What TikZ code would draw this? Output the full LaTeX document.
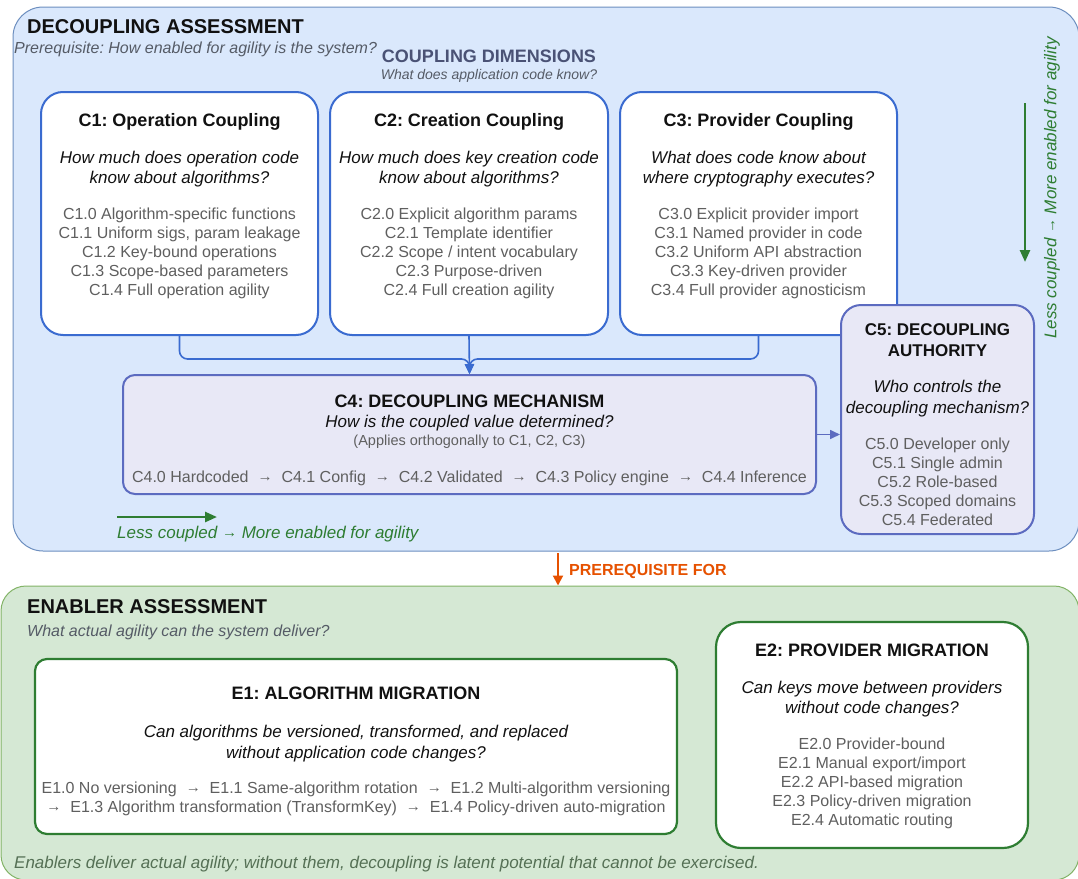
\documentclass[tikz,border=0pt]{standalone}
\usepackage{fontspec}
\setmainfont{Liberation Sans}
\usetikzlibrary{arrows.meta}
\frenchspacing
\definecolor{bluefill}{HTML}{DAE8FC}
\definecolor{bluestroke}{HTML}{6C8EBF}
\definecolor{cblue}{HTML}{3A6BD0}
\definecolor{lav}{HTML}{E8E8F6}
\definecolor{lavstroke}{HTML}{5C6BC0}
\definecolor{greenfill}{HTML}{D5E8D4}
\definecolor{greenstroke}{HTML}{82B366}
\definecolor{dgreen}{HTML}{2E7D32}
\definecolor{orng}{HTML}{E65100}
\definecolor{itemgray}{HTML}{5F5F5F}
\definecolor{ink}{HTML}{111111}
\definecolor{slate}{HTML}{4A5275}
\definecolor{subgray}{HTML}{555B66}
\definecolor{footgreen}{HTML}{557055}
\newcommand{\smarr}{\raisebox{1pt}{\fontsize{15}{15}\selectfont →}}
\newcommand{\sarr}{\hspace{0.56em}\smarr\hspace{0.56em}}
\tikzset{
  sect/.style={draw=#1, line width=1pt, rectangle},
  cbox/.style={draw=cblue, fill=white, line width=2pt, rounded corners=22pt, rectangle, inner sep=0},
  lbox/.style={draw=lavstroke, fill=lav, line width=2pt, rectangle, inner sep=0},
  ebox/.style={draw=dgreen, fill=white, line width=2.2pt, rectangle, inner sep=0},
  ttl/.style={font=\bfseries\fontsize{18}{18}\selectfont, text=ink, anchor=base, yshift=-6pt, inner sep=0},
  ttlc/.style={font=\bfseries\fontsize{17}{17}\selectfont, text=ink, anchor=base, yshift=-5.7pt, inner sep=0},
  ques/.style={font=\itshape\fontsize{17}{17}\selectfont, text=ink, anchor=base, yshift=-5.7pt, inner sep=0},
  itm/.style={font=\fontsize{16}{16}\selectfont, text=itemgray, anchor=base, yshift=-5.4pt, inner sep=0},
  sectttl/.style={font=\bfseries\fontsize{20}{20}\selectfont, text=ink, anchor=base west, yshift=-6.8pt, inner sep=0},
  sectsub/.style={font=\itshape\fontsize{16}{16}\selectfont, text=subgray, anchor=base west, yshift=-5.4pt, inner sep=0},
  conn/.style={draw=cblue, line width=1.6pt, rounded corners=8pt, -{Triangle[length=10pt,width=9pt]}},
  garrow/.style={draw=dgreen, line width=2.5pt, -{Triangle[length=12pt,width=10pt]}},
  gtext/.style={font=\itshape\fontsize{17}{17}\selectfont, text=dgreen, inner sep=0},
}
\begin{document}
\begin{tikzpicture}[x=1pt,y=-1pt]
\useasboundingbox (0,0) rectangle (1078,878);
\clip (0,0) rectangle (1078,878);

% ---------- section backgrounds ----------
\node[sect=bluestroke, fill=bluefill, rounded corners=30pt, minimum width=1066pt, minimum height=544pt] (dec) at (546,279) {};
\node[sect=greenstroke, fill=greenfill, rounded corners=25pt, minimum width=1078pt, minimum height=294pt] (en) at (540,733) {};

% ---------- decoupling header ----------
\node[sectttl] (dectitle) at (27,27) {DECOUPLING ASSESSMENT};
\node[sectsub] (decsub) at (14,48) {Prerequisite: How enabled for agility is the system?};
\node[font=\bfseries\fontsize{18}{18}\selectfont, text=slate, anchor=base, yshift=-6pt, inner sep=0] (cdim) at (489,56) {COUPLING DIMENSIONS};
\node[font=\itshape\fontsize{14}{14}\selectfont, text=subgray, anchor=base, yshift=-4.7pt, inner sep=0] (cdimsub) at (489,75) {What does application code know?};

% ---------- C1 - C3 ----------
\node[cbox, minimum width=277pt, minimum height=243pt] (c1) at (179.5,213.5) {};
\node[cbox, minimum width=278pt, minimum height=243pt] (c2) at (469,213.5) {};
\node[cbox, minimum width=277pt, minimum height=243pt] (c3) at (758.5,213.5) {};

\node[ttl] (c1t) at (179.5,120) {C1: Operation Coupling};
\node[ques] (c1q1) at (179.5,158) {How much does operation code};
\node[ques] (c1q2) at (179.5,178) {know about algorithms?};
\foreach \t [count=\i] in {C1.0 Algorithm-specific functions,{C1.1 Uniform sigs, param leakage},C1.2 Key-bound operations,C1.3 Scope-based parameters,C1.4 Full operation agility}
  \node[itm] (c1i\i) at (179.5,{214+19*(\i-1)}) {\t};

\node[ttl] (c2t) at (469,120) {C2: Creation Coupling};
\node[ques] (c2q1) at (469,158) {How much does key creation code};
\node[ques] (c2q2) at (469,178) {know about algorithms?};
\foreach \t [count=\i] in {C2.0 Explicit algorithm params,C2.1 Template identifier,C2.2 Scope / intent vocabulary,C2.3 Purpose-driven,C2.4 Full creation agility}
  \node[itm] (c2i\i) at (469,{214+19*(\i-1)}) {\t};

\node[ttl] (c3t) at (758.5,120) {C3: Provider Coupling};
\node[ques] (c3q1) at (758.5,158) {What does code know about};
\node[ques] (c3q2) at (758.5,178) {where cryptography executes?};
\foreach \t [count=\i] in {C3.0 Explicit provider import,C3.1 Named provider in code,C3.2 Uniform API abstraction,C3.3 Key-driven provider,C3.4 Full provider agnosticism}
  \node[itm] (c3i\i) at (758.5,{214+19*(\i-1)}) {\t};

% ---------- C4 ----------
\node[lbox, rounded corners=12pt, minimum width=693pt, minimum height=119pt] (c4) at (469.5,434.5) {};
\node[ttl] (c4t) at (469.5,401) {C4: DECOUPLING MECHANISM};
\node[ques] (c4q) at (469.5,422) {How is the coupled value determined?};
\node[font=\fontsize{14.5}{14.5}\selectfont, text=itemgray, anchor=base, yshift=-4.9pt, inner sep=0] (c4p) at (469.5,441) {(Applies orthogonally to C1, C2, C3)};
\node[itm] (c4i) at (469.5,477) {C4.0 Hardcoded\sarr C4.1 Config\sarr C4.2 Validated\sarr C4.3 Policy engine\sarr C4.4 Inference};

% ---------- C5 ----------
\node[lbox, rounded corners=20pt, minimum width=193pt, minimum height=229pt] (c5) at (937.5,419.5) {};
\node[ttlc] (c5t1) at (937.5,330) {C5: DECOUPLING};
\node[ttlc] (c5t2) at (937.5,351) {AUTHORITY};
\node[ques] (c5q1) at (937.5,387) {Who controls the};
\node[ques] (c5q2) at (937.5,408) {decoupling mechanism?};
\foreach \t [count=\i] in {C5.0 Developer only,C5.1 Single admin,C5.2 Role-based,C5.3 Scoped domains,C5.4 Federated}
  \node[itm] (c5i\i) at (937.5,{444+19*(\i-1)}) {\t};

% ---------- connectors ----------
\draw[conn] (c1.south) -- ++(0,23) -| (c4.north);
\draw[conn] (c3.south) -- ++(0,23) -| (c4.north);
\draw[conn] (c2.south) -- (c4.north);
\draw[draw=lavstroke, line width=1.6pt, -{Triangle[length=10pt,width=9pt]}] (c4.east) -- (c4.east -| c5.west);

% ---------- green direction arrows ----------
\coordinate (ha) at (117,517);
\coordinate (hb) at (217,517);
\draw[garrow] (ha) -- (hb);
\node[gtext, anchor=base west, yshift=-5.7pt] (htext) at (117,533) {Less coupled \smarr{} More enabled for agility};
\coordinate (va) at (1025,103);
\coordinate (vb) at (1025,262);
\draw[garrow] (va) -- (vb);
\node[gtext, rotate=90] (vtext) at (1052,188) {Less coupled \smarr{} More enabled for agility};

% ---------- prerequisite arrow ----------
\coordinate (pa) at (558,553);
\draw[draw=orng, line width=2pt, -{Triangle[length=10pt,width=10pt]}] (pa) -- (pa |- en.north);
\node[font=\bfseries\fontsize{16}{16}\selectfont, text=orng, anchor=base west, yshift=-5.6pt, inner sep=0] (pretext) at (569,570) {PREREQUISITE FOR};

% ---------- enabler header ----------
\node[sectttl] (entitle) at (27,607) {ENABLER ASSESSMENT};
\node[sectsub, text=subgray] (ensub) at (27,631) {What actual agility can the system deliver?};

% ---------- E1 ----------
\node[ebox, rounded corners=12pt, minimum width=642pt, minimum height=175pt] (e1) at (356,746.5) {};
\node[ttl] (e1t) at (356,693) {E1: ALGORITHM MIGRATION};
\node[ques] (e1q1) at (356,732) {Can algorithms be versioned, transformed, and replaced};
\node[ques] (e1q2) at (356,753) {without application code changes?};
\node[itm] (e1i1) at (356,788) {E1.0 No versioning\sarr E1.1 Same-algorithm rotation\sarr E1.2 Multi-algorithm versioning};
\node[itm] (e1i2) at (356,807) {\smarr\hspace{0.56em}E1.3 Algorithm transformation (TransformKey)\sarr E1.4 Policy-driven auto-migration};

% ---------- E2 ----------
\node[ebox, rounded corners=25pt, minimum width=312pt, minimum height=226pt] (e2) at (872,735) {};
\node[ttl] (e2t) at (872,650) {E2: PROVIDER MIGRATION};
\node[ques] (e2q1) at (872,688) {Can keys move between providers};
\node[ques] (e2q2) at (872,708) {without code changes?};
\foreach \t [count=\i] in {E2.0 Provider-bound,E2.1 Manual export/import,E2.2 API-based migration,E2.3 Policy-driven migration,E2.4 Automatic routing}
  \node[itm] (e2i\i) at (872,{744+19*(\i-1)}) {\t};

% ---------- footer ----------
\node[sectsub, font=\itshape\fontsize{17}{17}\selectfont, yshift=-0.3pt, text=footgreen] (foot) at (14,863) {Enablers deliver actual agility; without them, decoupling is latent potential that cannot be exercised.};
\end{tikzpicture}
\end{document}
